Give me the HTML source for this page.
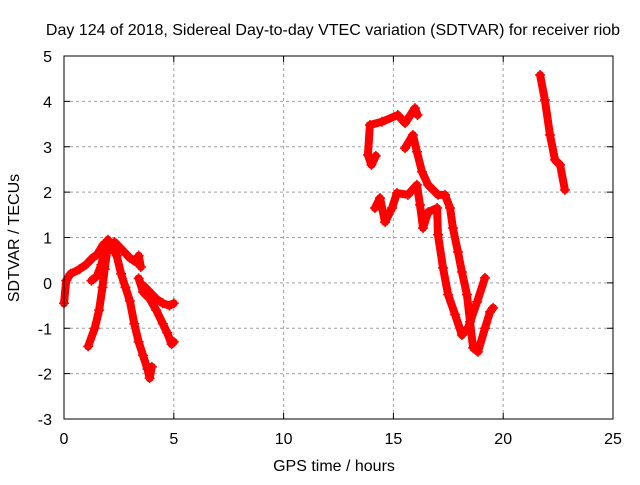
<!DOCTYPE html>
<html><head><meta charset="utf-8"><style>
body{margin:0;background:#fff}
svg text{font-family:"Liberation Sans",sans-serif;font-size:16px;fill:#000}
</style></head><body>
<svg id="c" width="640" height="480">
<text x="333" y="35" text-anchor="middle">Day 124 of 2018, Sidereal Day-to-day VTEC variation (SDTVAR) for receiver riob</text>
<text x="334" y="471" text-anchor="middle">GPS time / hours</text>
<text x="19" y="238" text-anchor="middle" transform="rotate(-90 19 238)">SDTVAR / TECUs</text>
<g id="grid"></g><g id="series"></g>
<rect x="64" y="56" width="549" height="363" fill="none" stroke="#000" stroke-width="1"/>
</svg>
<script>
const xTicks=[0,5,10,15,20,25];
const yTicks=[-3,-2,-1,0,1,2,3,4,5];
const track1=[[0,-0.45],[0.1,0.05],[0.3,0.2],[0.7,0.3],[1.0,0.4],[1.3,0.55],[1.5,0.62],[1.8,0.85],[2.0,0.9]];
const track2=[[1.1,-1.4],[1.4,-1.0],[1.6,-0.6],[1.75,-0.1],[1.85,0.3],[1.95,0.65],[2.1,0.85],[2.3,0.9],[2.6,0.75],[3.0,0.55],[3.3,0.45],[3.4,0.6],[3.5,0.35]];
const track3=[[1.25,0.05],[1.5,0.15],[1.7,0.4],[1.85,0.7],[2.0,0.95],[2.2,0.8],[2.4,0.6],[2.6,0.2],[2.8,-0.1],[3.0,-0.4],[3.2,-0.9],[3.4,-1.3],[3.6,-1.6],[3.8,-1.9],[3.9,-2.1],[4.0,-1.85]];
const track4=[[3.4,0.1],[3.6,-0.2],[3.9,-0.35],[4.2,-0.6],[4.5,-0.9],[4.7,-1.1],[4.9,-1.35],[5.0,-1.3]];
const track5=[[3.6,-0.05],[3.9,-0.2],[4.2,-0.35],[4.5,-0.45],[4.8,-0.5],[5.0,-0.45]];
const trackM1=[[14.2,2.8],[14.0,2.6],[13.84,2.82],[13.93,3.48],[14.48,3.55],[15.2,3.7],[15.53,3.52],[15.98,3.85],[16.1,3.7]];
const trackM2=[[15.53,2.97],[15.89,3.26],[16.07,2.89],[16.3,2.45],[16.58,2.16],[17.03,1.94],[17.35,1.94],[17.58,1.65],[17.71,1.21],[17.94,0.68],[18.12,0.24],[18.35,-0.26],[18.49,-0.86],[18.63,-1.43],[18.85,-1.52],[19.17,-1.0],[19.4,-0.64],[19.54,-0.55]];
const trackM3=[[14.16,1.65],[14.39,1.87],[14.62,1.34],[14.94,1.65],[15.16,1.98],[15.66,1.94],[16.07,2.16],[16.21,1.72],[16.35,1.21],[16.58,1.56],[16.99,1.65],[17.03,1.06],[17.26,0.33],[17.49,-0.26],[17.81,-0.7],[18.12,-1.15],[18.4,-0.99],[18.81,-0.42],[19.17,0.11]];
const trackR=[[21.68,4.58],[21.9,4.03],[22.13,3.26],[22.36,2.71],[22.59,2.6],[22.81,2.05]];
const tracks=[track1,track2,track3,track4,track5,trackM1,trackM2,trackM3,trackR];
const NS='http://www.w3.org/2000/svg';
const X=t=>64+t*549/25, Y=v=>56+(5-v)*363/8;
const grid=document.getElementById('grid'), ser=document.getElementById('series'), svg=document.getElementById('c');
function mk(tag,at,parent){const e=document.createElementNS(NS,tag);for(const k in at)e.setAttribute(k,at[k]);parent.appendChild(e);return e;}
xTicks.forEach(t=>{
 if(t>0&&t<25){const g=mk('line',{x1:X(t),x2:X(t),y1:56,y2:419,stroke:'#a0a0a0','stroke-dasharray':'3,3'},grid);
 
 }
 mk('line',{x1:X(t),x2:X(t),y1:419,y2:413,stroke:'#000'},grid);
 mk('line',{x1:X(t),x2:X(t),y1:56,y2:62,stroke:'#000'},grid);
 const l=mk('text',{x:X(t),y:444,'text-anchor':'middle'},svg);l.textContent=t;
 
 
});
yTicks.forEach(v=>{
 if(v>-3&&v<5){const g=mk('line',{x1:64,x2:613,y1:Y(v),y2:Y(v),stroke:'#a0a0a0','stroke-dasharray':'3,3'},grid);
 
 }
 mk('line',{x1:64,x2:70,y1:Y(v),y2:Y(v),stroke:'#000'},grid);
 mk('line',{x1:613,x2:607,y1:Y(v),y2:Y(v),stroke:'#000'},grid);
 const l=mk('text',{x:52,y:Y(v)+6,'text-anchor':'end'},svg);l.textContent=v;
 
 
});
tracks.forEach(tr=>{
 const p=mk('polyline',{points:tr.map(d=>X(d[0])+','+Y(d[1])).join(' '),fill:'none',stroke:'#ff0000','stroke-width':8,'stroke-linejoin':'round','stroke-linecap':'round'},ser);
 
 
 tr.forEach(d=>{
  const m=mk('path',{d:`M${X(d[0])-5},${Y(d[1])}h10M${X(d[0])},${Y(d[1])-5}v10`,stroke:'#ff0000','stroke-width':1.5},ser);
  
  
 });
});
</script>
</body></html>
